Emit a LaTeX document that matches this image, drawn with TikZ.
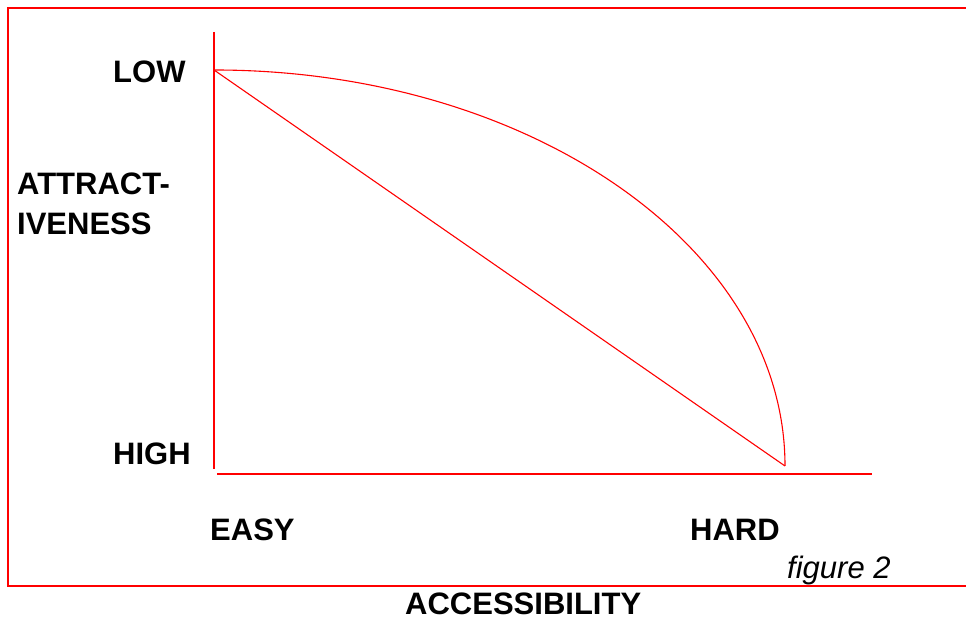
\documentclass[tikz,border=0pt]{standalone}
\usepackage{fontspec}
\setmainfont{Liberation Sans}
\usetikzlibrary{positioning}
\definecolor{frame}{HTML}{FF0000}
\definecolor{ink}{HTML}{000000}

\begin{document}
\begin{tikzpicture}[x=1pt, y=1pt,
    lbl/.style={anchor=base west, inner sep=0pt, text=ink,
      font=\fontsize{31}{40}\selectfont\bfseries},
    note/.style={anchor=base west, inner sep=0pt, text=ink,
      font=\fontsize{31}{40}\selectfont\itshape},
    redline/.style={draw=frame, line width=1.1pt}]
  \useasboundingbox (0,0) rectangle (966,620);
  % frame
  \draw[frame, line width=1.6pt] (967,612) -- (8,612) -- (8,34) -- (967,34);
  % axes
  \coordinate (ytop) at (214,588);
  \coordinate (ybot) at (214,151);
  \coordinate (xleft) at (217,146);
  \coordinate (xright) at (872,146);
  \draw[redline] (ytop) -- (ybot);
  \draw[redline] (xleft) -- (xright);
  % curves
  \coordinate (start) at (214,550);
  \coordinate (finish) at (785,154);
  \draw[redline] (start) -- (finish);
  \draw[redline] (start) arc[start angle=90, end angle=0, x radius=571, y radius=396];
  % labels
  \node[lbl] (low) at (113,537) {LOW};
  \node[lbl, align=left] (attract) at (17,385) {ATTRACT-\\IVENESS};
  \node[lbl] (high) at (113,155) {HIGH};
  \node[lbl] (easy) at (210,79) {EASY};
  \node[lbl] (hard) at (690,79) {HARD};
  \node[note] (fig) at (787,41) {figure 2};
  \node[lbl] (access) at (405,5) {ACCESSIBILITY};
\end{tikzpicture}
\end{document}
